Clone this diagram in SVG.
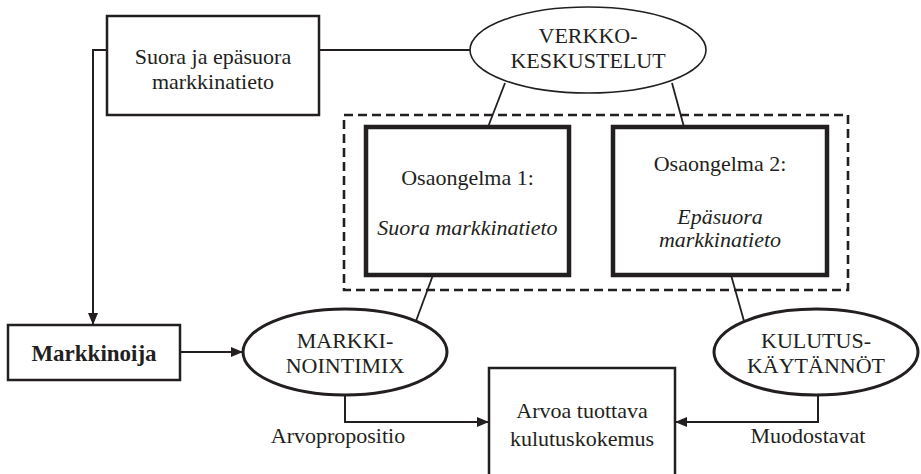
<svg xmlns="http://www.w3.org/2000/svg" width="921" height="474" viewBox="0 0 921 474">
  <defs>
    <marker id="arrow" viewBox="0 0 12 10" refX="12" refY="5" markerWidth="12" markerHeight="10" markerUnits="userSpaceOnUse" orient="auto">
      <path d="M0,0 L12,5 L0,10 Z" fill="#231f20"/>
    </marker>
    <style>
      text { font-family: "Liberation Serif", "Times New Roman", serif; font-size: 22px; fill: #231f20; text-anchor: middle; }
      .it { font-style: italic; }
      .bold { font-weight: bold; font-size: 23px; }
      .box { fill: #fff; stroke: #231f20; stroke-width: 2.5; }
      .thick { fill: #fff; stroke: #231f20; stroke-width: 4.5; }
      .ell { fill: #fff; stroke: #231f20; stroke-width: 3; }
      .thin { stroke-width: 1.6; }
      .line { fill: none; stroke: #231f20; stroke-width: 1.8; }
      .flow { fill: none; stroke: #231f20; stroke-width: 2; }
      .dash { fill: none; stroke: #231f20; stroke-width: 2.6; stroke-dasharray: 9 5; }
    </style>
  </defs>

  <!-- frame around the two sub-problems -->
  <rect class="dash" x="344" y="115" width="504" height="175"/>

  <!-- connectors -->
  <g id="connectors">
    <line class="line" x1="319" y1="50" x2="471" y2="50"/>
    <polyline class="flow" points="107,50 93,50 93,325" marker-end="url(#arrow)"/>
    <line class="line" x1="505" y1="83" x2="488" y2="127"/>
    <line class="line" x1="672" y1="83" x2="684" y2="127"/>
    <line class="line" x1="433" y1="275" x2="416" y2="321"/>
    <line class="line" x1="731" y1="275" x2="744" y2="321"/>
    <line class="flow" x1="180" y1="352" x2="243" y2="352" marker-end="url(#arrow)"/>
    <polyline class="flow" points="345,395 345,422 489,422" marker-end="url(#arrow)"/>
    <polyline class="flow" points="818,395 818,422 675,422" marker-end="url(#arrow)"/>
    <text x="338" y="443">Arvopropositio</text>
    <text x="808" y="443">Muodostavat</text>
  </g>

  <g id="market-info">
    <rect class="box" x="107" y="16" width="212" height="99"/>
    <text x="213" y="64">Suora ja epäsuora</text>
    <text x="213" y="89">markkinatieto</text>
  </g>

  <g id="online-discussions">
    <ellipse class="ell thin" cx="588" cy="50" rx="118" ry="43"/>
    <text x="588" y="43">VERKKO-</text>
    <text x="588" y="68">KESKUSTELUT</text>
  </g>

  <g id="subproblem-1">
    <rect class="thick" x="366" y="127" width="203" height="148"/>
    <text x="467.5" y="185">Osaongelma 1:</text>
    <text class="it" x="467.5" y="235">Suora markkinatieto</text>
  </g>

  <g id="subproblem-2">
    <rect class="thick" x="613" y="127" width="214" height="148"/>
    <text x="720" y="171">Osaongelma 2:</text>
    <text class="it" x="720" y="224">Epäsuora</text>
    <text class="it" x="720" y="247">markkinatieto</text>
  </g>

  <g id="marketer">
    <rect class="box" x="8" y="325" width="172" height="55"/>
    <text class="bold" x="94" y="361">Markkinoija</text>
  </g>

  <g id="marketing-mix">
    <ellipse class="ell" cx="345" cy="352" rx="102" ry="43"/>
    <text x="345" y="348">MARKKI-</text>
    <text x="345" y="373">NOINTIMIX</text>
  </g>

  <g id="consumption-practices">
    <ellipse class="ell" cx="816" cy="352" rx="102" ry="43"/>
    <text x="816" y="348">KULUTUS-</text>
    <text x="816" y="373">KÄYTÄNNÖT</text>
  </g>

  <g id="experience">
    <rect class="box" x="489" y="368" width="186" height="120"/>
    <text x="582" y="418">Arvoa tuottava</text>
    <text x="582" y="446">kulutuskokemus</text>
  </g>
</svg>
